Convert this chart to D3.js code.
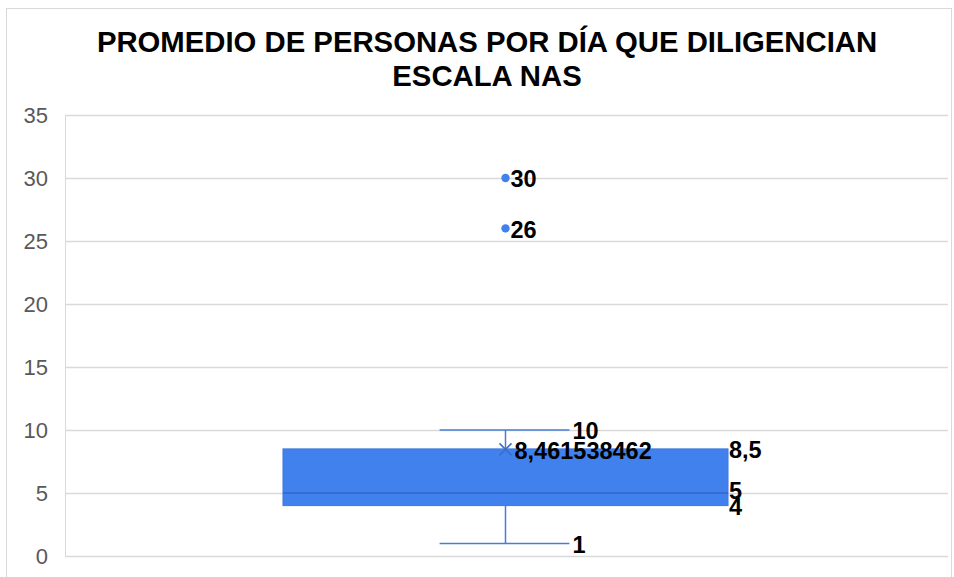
<!DOCTYPE html>
<html>
<head>
<meta charset="utf-8">
<script src="https://cdn.jsdelivr.net/npm/d3@7"></script>
<style>
  body { margin: 0; background: #fff; }
  svg { display: block; font-family: "Liberation Sans", Arial, sans-serif; }
</style>
</head>
<body>
<div id="chart"></div>
<script>
// data
var categories = ["NAS"];
var boxStats = [{ cat: "NAS", min: 1, q1: 4, median: 5, q3: 8.5, max: 10, mean: 8.461538462 }];
var outliers = [26, 30];
var yTicks = [0, 5, 10, 15, 20, 25, 30, 35];
var titleLines = ["PROMEDIO DE PERSONAS POR DÍA QUE DILIGENCIAN", "ESCALA NAS"];

var W = 954, H = 577;
var margin = { top: 115, right: 6, bottom: 21, left: 65 };

var svg = d3.select("#chart").append("svg")
    .attr("width", W)
    .attr("height", H);

// outer chart frame
svg.append("rect")
    .attr("x", 6.5).attr("y", 8.5)
    .attr("width", W - 9).attr("height", H - 4)
    .attr("fill", "#fff")
    .attr("stroke", "#d9d9d9");

var y = d3.scaleLinear().domain([0, 35]).range([H - margin.bottom, margin.top]);
var x = d3.scaleBand().domain(categories).range([margin.left, W - margin.right]);

// title
svg.append("g").selectAll("text")
  .data(titleLines)
  .enter()
    .append("text")
    .attr("x", 487)
    .attr("y", function(d, i){ return 52 + i * 34; })
    .attr("text-anchor", "middle")
    .attr("font-size", "29.3px")
    .attr("font-weight", "bold")
    .attr("fill", "#000")
    .text(function(d){ return d; });

// gridlines + y labels
var yAxis = d3.axisLeft(y)
    .tickValues(yTicks)
    .tickSize(-(W - margin.left - margin.right))
    .tickPadding(17);

var gy = svg.append("g")
    .attr("transform", "translate(" + margin.left + ",0)")
    .call(yAxis);
gy.select(".domain").attr("stroke", "#d9d9d9");
gy.selectAll(".tick line").attr("stroke", "#d9d9d9").attr("stroke-width", 1.3);
gy.selectAll(".tick text")
    .attr("fill", "#595959")
    .attr("font-size", "22px")
    .attr("font-family", "Liberation Sans, Arial, sans-serif");

var boxW = x.bandwidth() * 0.504;
var capW = x.bandwidth() * 0.147;
var blue = "#4181ee", dark = "#3566c4", whisk = "#4a7bd6";

var g = svg.append("g");
var boxes = g.selectAll(".box").data(boxStats).enter().append("g").attr("class", "box");

boxes.each(function(d){
  var el = d3.select(this);
  var cx = x(d.cat) + x.bandwidth() / 2 - 1;

  // whiskers
  el.append("line")
      .attr("x1", cx).attr("x2", cx)
      .attr("y1", y(d.max)).attr("y2", y(d.q3))
      .attr("stroke", whisk).attr("stroke-width", 1.5);
  el.append("line")
      .attr("x1", cx).attr("x2", cx)
      .attr("y1", y(d.q1)).attr("y2", y(d.min))
      .attr("stroke", whisk).attr("stroke-width", 1.5);
  [d.max, d.min].forEach(function(v){
    el.append("line")
        .attr("x1", cx - capW / 2 - 1).attr("x2", cx + capW / 2 - 1)
        .attr("y1", y(v)).attr("y2", y(v))
        .attr("stroke", whisk).attr("stroke-width", 1.5);
  });

  // box
  el.append("rect")
      .attr("x", cx - boxW / 2)
      .attr("y", y(d.q3))
      .attr("width", boxW)
      .attr("height", y(d.q1) - y(d.q3))
      .attr("fill", blue)
      .attr("stroke", "#3f78dc")
      .attr("stroke-width", 1);

  // median
  el.append("line")
      .attr("x1", cx - boxW / 2).attr("x2", cx + boxW / 2)
      .attr("y1", y(d.median)).attr("y2", y(d.median))
      .attr("stroke", dark).attr("stroke-width", 1.5);

  // mean marker (x)
  var s = 6, my = y(d.mean);
  el.append("path")
      .attr("d", "M" + (cx - s) + "," + (my - s) + "L" + (cx + s) + "," + (my + s) +
                 "M" + (cx - s) + "," + (my + s) + "L" + (cx + s) + "," + (my - s))
      .attr("stroke", "#3a6cc8").attr("stroke-width", 1.6).attr("fill", "none");

  // outliers
  el.selectAll("circle")
    .data(outliers)
    .enter()
      .append("circle")
      .attr("cx", cx)
      .attr("cy", function(v){ return y(v); })
      .attr("r", 4.2)
      .attr("fill", blue);

  // data labels
  var labels = [
    { t: String(d.max), x: cx + capW / 2 + 2, y: y(d.max) + 1 },
    { t: String(d.min), x: cx + capW / 2 + 2, y: y(d.min) + 1 },
    { t: String(d.mean).replace(".", ","), x: cx + 9, y: y(d.mean) + 1 },
    { t: String(d.q3).replace(".", ","), x: cx + boxW / 2 + 1, y: y(d.q3) + 1 },
    { t: String(d.median), x: cx + boxW / 2 + 1, y: y(d.median) - 2 },
    { t: String(d.q1), x: cx + boxW / 2 + 1, y: y(d.q1) + 1 }
  ];
  outliers.forEach(function(v){
    labels.push({ t: String(v), x: cx + 5, y: y(v) + 1 });
  });
  el.selectAll("text.lbl")
    .data(labels)
    .enter()
      .append("text")
      .attr("class", "lbl")
      .attr("x", function(l){ return l.x; })
      .attr("y", function(l){ return l.y; })
      .attr("dy", "0.35em")
      .attr("font-size", "23.5px")
      .attr("font-weight", "bold")
      .attr("fill", "#000")
      .text(function(l){ return l.t; });
});
</script>
</body>
</html>
